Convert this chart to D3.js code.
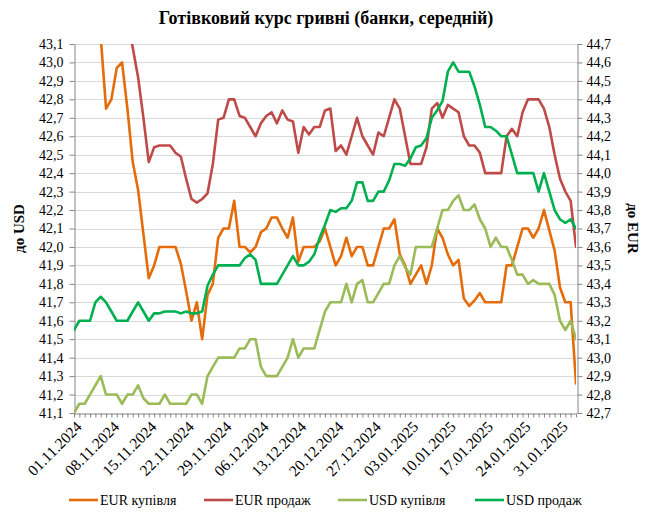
<!DOCTYPE html>
<html>
<head>
<meta charset="utf-8">
<script src="https://cdn.jsdelivr.net/npm/d3@7"></script>
<style>
  body { margin: 0; background: #fff; }
  svg text { font-family: "Liberation Serif", "Times New Roman", serif; fill: #000; }
  .grid line { stroke: #d9d9d9; stroke-width: 1; }
  .axis path, .axis line { stroke: #868686; stroke-width: 1; }
  .series { fill: none; stroke-width: 2.6; stroke-linejoin: round; stroke-linecap: round; }
</style>
</head>
<body>
<div id="chart"></div>
<script>

// data: one value per calendar day, 01.11.2024 .. 03.02.2025
let firstDay = "01.11.2024";
let lastDay = "03.02.2025";

let tickLabels = ["01.11.2024", "08.11.2024", "15.11.2024", "22.11.2024", "29.11.2024",
  "06.12.2024", "13.12.2024", "20.12.2024", "27.12.2024", "03.01.2025",
  "10.01.2025", "17.01.2025", "24.01.2025", "31.01.2025"];

let seriesNames = ["EUR купівля", "EUR продаж", "USD купівля", "USD продаж"];

// EUR - right axis (до EUR), first days run above the plot top
let eurBuy = [45.1, 45.05, 45.0, 44.95, 44.9, 44.74, 44.35, 44.4, 44.57, 44.6,
  44.35, 44.06, 43.91, 43.67, 43.43, 43.5, 43.6, 43.6, 43.6, 43.6,
  43.51, 43.36, 43.2, 43.3, 43.1, 43.34, 43.4, 43.65, 43.7, 43.7,
  43.85, 43.6, 43.6, 43.57, 43.6, 43.68, 43.7, 43.76, 43.76, 43.7,
  43.65, 43.76, 43.52, 43.6, 43.6, 43.6, 43.63, 43.7, 43.6, 43.5,
  43.55, 43.65, 43.55, 43.6, 43.6, 43.5, 43.5, 43.6, 43.7, 43.7,
  43.75, 43.56, 43.5, 43.4, 43.45, 43.5, 43.4, 43.5, 43.7, 43.65,
  43.56, 43.5, 43.53, 43.32, 43.28, 43.31, 43.35, 43.3, 43.3, 43.3,
  43.3, 43.5, 43.5, 43.6, 43.7, 43.7, 43.65, 43.7, 43.8, 43.69,
  43.58, 43.38, 43.3, 43.3, 42.86];

let eurSell = [45.3, 45.25, 45.2, 45.2, 45.15, 45.1, 45.1, 45.05, 45.0, 44.95,
  44.85, 44.68, 44.52, 44.3, 44.06, 44.14, 44.15, 44.15, 44.15, 44.11,
  44.09, 43.97, 43.86, 43.84, 43.86, 43.89, 44.05, 44.29, 44.3, 44.4,
  44.4, 44.31, 44.3, 44.25, 44.2, 44.27, 44.31, 44.33, 44.27, 44.34,
  44.29, 44.28, 44.11, 44.25, 44.21, 44.25, 44.25, 44.34, 44.35, 44.12,
  44.15, 44.1, 44.2, 44.3, 44.2, 44.15, 44.1, 44.22, 44.2, 44.3,
  44.4, 44.35, 44.2, 44.05, 44.05, 44.05, 44.14, 44.35, 44.38, 44.3,
  44.37, 44.35, 44.33, 44.2, 44.15, 44.15, 44.11, 44.0, 44.0, 44.0,
  44.0, 44.2, 44.24, 44.2, 44.33, 44.4, 44.4, 44.4, 44.35, 44.25,
  44.1, 43.97, 43.9, 43.85, 43.6];

// USD - left axis (до USD)
let usdBuy = [41.1, 41.15, 41.15, 41.2, 41.25, 41.3, 41.2, 41.2, 41.2, 41.15,
  41.2, 41.2, 41.25, 41.18, 41.15, 41.15, 41.15, 41.2, 41.15, 41.15,
  41.15, 41.15, 41.2, 41.2, 41.15, 41.3, 41.35, 41.4, 41.4, 41.4,
  41.4, 41.45, 41.45, 41.5, 41.5, 41.35, 41.3, 41.3, 41.3, 41.35,
  41.4, 41.5, 41.4, 41.45, 41.45, 41.45, 41.55, 41.65, 41.7, 41.7,
  41.7, 41.8, 41.7, 41.8, 41.82, 41.7, 41.7, 41.75, 41.8, 41.8,
  41.9, 41.95, 41.89, 41.85, 42.0, 42.0, 42.0, 42.0, 42.1, 42.2,
  42.2, 42.25, 42.28, 42.2, 42.2, 42.23, 42.15, 42.1, 42.0, 42.05,
  42.0, 42.0, 41.93, 41.85, 41.85, 41.8, 41.82, 41.8, 41.8, 41.8,
  41.74, 41.6, 41.55, 41.6, 41.5];

let usdSell = [41.55, 41.6, 41.6, 41.6, 41.7, 41.73, 41.7, 41.65, 41.6, 41.6,
  41.6, 41.65, 41.7, 41.65, 41.6, 41.64, 41.64, 41.65, 41.65, 41.65,
  41.64, 41.65, 41.64, 41.64, 41.65, 41.79, 41.85, 41.9, 41.9, 41.9,
  41.9, 41.9, 41.94, 41.96, 41.93, 41.8, 41.8, 41.8, 41.8, 41.85,
  41.9, 41.95, 41.9, 41.9, 41.92, 41.96, 42.05, 42.12, 42.2, 42.19,
  42.21, 42.21, 42.25, 42.35, 42.35, 42.25, 42.25, 42.3, 42.3, 42.36,
  42.45, 42.45, 42.44, 42.48, 42.54, 42.55, 42.59, 42.7, 42.74, 42.79,
  42.95, 43.0, 42.95, 42.95, 42.95, 42.87, 42.77, 42.65, 42.65, 42.63,
  42.6, 42.6, 42.5, 42.4, 42.4, 42.4, 42.4, 42.3, 42.4, 42.3,
  42.2, 42.15, 42.13, 42.15, 42.1];

let leftDomain = [41.1, 43.1];
let rightDomain = [42.7, 44.7];


let width = 650, height = 523;
let plot = { left: 74, right: 576, top: 44, bottom: 413 };

let parseDay = d3.utcParse("%d.%m.%Y");
let dates = d3.utcDay.range(parseDay(firstDay), d3.utcDay.offset(parseDay(lastDay), 1));

let colors = ["#e46c0a", "#be4b48", "#9bbb59", "#00b050"];

let comma = function(v) {
  return d3.format(".1f")(v).replace(".", ",");
};

let x = d3.scaleUtc()
          .domain([dates[0], dates[dates.length - 1]])
          .range([plot.left, plot.right]);

let yLeft = d3.scaleLinear().domain(leftDomain).range([plot.bottom, plot.top]);
let yRight = d3.scaleLinear().domain(rightDomain).range([plot.bottom, plot.top]);

let leftTicks = d3.range(0, 21).map(function(i) { return +(leftDomain[0] + i * 0.1).toFixed(1); });
let rightTicks = d3.range(0, 21).map(function(i) { return +(rightDomain[0] + i * 0.1).toFixed(1); });

let svg = d3.select("#chart")
            .append("svg")
            .attr("width", width)
            .attr("height", height);

svg.append("defs")
   .append("clipPath")
   .attr("id", "plot-clip")
   .append("rect")
   .attr("x", plot.left)
   .attr("y", plot.top)
   .attr("width", plot.right - plot.left)
   .attr("height", plot.bottom - plot.top);

// title
svg.append("text")
   .attr("x", 326)
   .attr("y", 24)
   .attr("text-anchor", "middle")
   .style("font-size", "18px")
   .style("font-weight", "bold")
   .text("Готівковий курс гривні (банки, середній)");

// horizontal grid
svg.append("g")
   .attr("class", "grid")
   .selectAll("line")
   .data(leftTicks.slice(1))
   .enter()
   .append("line")
   .attr("x1", plot.left)
   .attr("x2", plot.right + 1)
   .attr("y1", function(d) { return Math.round(yLeft(d)) + 0.5; })
   .attr("y2", function(d) { return Math.round(yLeft(d)) + 0.5; });

// left axis
let leftAxis = svg.append("g")
                  .attr("class", "axis")
                  .attr("transform", "translate(" + (plot.left + 0.5) + ",0)")
                  .call(d3.axisLeft(yLeft).tickValues(leftTicks).tickFormat(comma).tickSize(5).tickSizeOuter(0).tickPadding(6));

// right axis
let rightAxis = svg.append("g")
                   .attr("class", "axis")
                   .attr("transform", "translate(" + (plot.right + 1.5) + ",0)")
                   .call(d3.axisRight(yRight).tickValues(rightTicks).tickFormat(comma).tickSize(5).tickSizeOuter(0).tickPadding(4));

svg.selectAll(".axis text")
   .style("font-size", "14px")
   .style("font-family", "'Liberation Serif', serif");

// bottom axis, one small tick per day
svg.append("g")
   .attr("class", "axis")
   .attr("transform", "translate(0," + (plot.bottom + 0.5) + ")")
   .call(d3.axisBottom(x).tickValues(dates).tickFormat("").tickSize(4).tickSizeOuter(0));

svg.append("g")
   .attr("class", "x-labels")
   .selectAll("text")
   .data(tickLabels)
   .enter()
   .append("text")
   .attr("transform", function(d) {
     return "translate(" + (x(parseDay(d)) + 5) + "," + (plot.bottom + 11) + ") rotate(-45)";
   })
   .attr("text-anchor", "end")
   .attr("dy", "0.35em")
   .style("font-size", "15.5px")
   .text(function(d) { return d; });

// axis titles
svg.append("text")
   .attr("transform", "translate(24," + ((plot.top + plot.bottom) / 2) + ") rotate(-90)")
   .attr("text-anchor", "middle")
   .style("font-size", "15px")
   .style("font-weight", "bold")
   .text("до USD");

svg.append("text")
   .attr("transform", "translate(628," + ((plot.top + plot.bottom) / 2) + ") rotate(90)")
   .attr("text-anchor", "middle")
   .style("font-size", "15px")
   .style("font-weight", "bold")
   .text("до EUR");

// series
let seriesData = [
  { values: eurBuy, scale: yRight },
  { values: eurSell, scale: yRight },
  { values: usdBuy, scale: yLeft },
  { values: usdSell, scale: yLeft }
];

let lines = svg.append("g")
               .attr("clip-path", "url(#plot-clip)");

seriesData.forEach(function(s, k) {
  let line = d3.line()
               .x(function(v, i) { return x(dates[i]); })
               .y(function(v) { return s.scale(v); });
  lines.append("path")
       .attr("class", "series")
       .attr("stroke", colors[k])
       .attr("d", line(s.values));
});

// legend
let legendX = [69, 204, 338, 475];
let legend = svg.append("g")
                .attr("class", "legend")
                .attr("transform", "translate(0,500)");

let items = legend.selectAll("g")
                  .data(seriesNames)
                  .enter()
                  .append("g")
                  .attr("transform", function(d, i) { return "translate(" + legendX[i] + ",0)"; });

items.append("line")
     .attr("x1", 0)
     .attr("x2", 29)
     .attr("y1", 0)
     .attr("y2", 0)
     .attr("stroke", function(d, i) { return colors[i]; })
     .attr("stroke-width", 2.6);

items.append("text")
     .attr("x", 31)
     .attr("y", 0)
     .attr("dy", "0.35em")
     .style("font-size", "14px")
     .text(function(d) { return d; });

</script>
</body>
</html>
